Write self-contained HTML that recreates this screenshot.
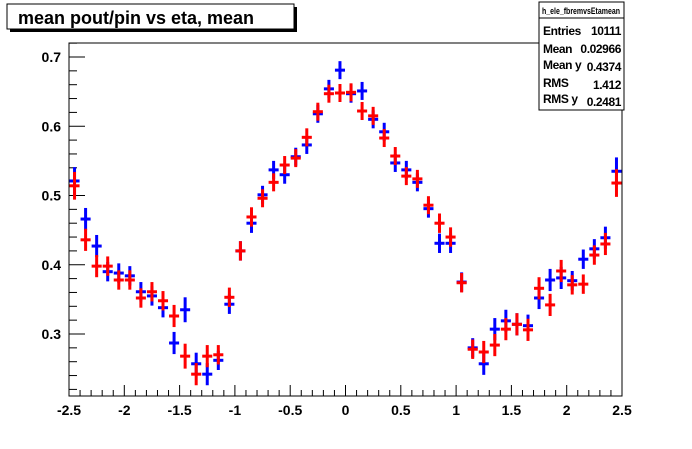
<!DOCTYPE html>
<html><head><meta charset="utf-8"><style>
body{margin:0;background:#fff;}
svg text{font-family:"Liberation Sans",sans-serif;}
.st{font-size:12px;font-weight:bold;letter-spacing:-0.4px;}
</style></head><body>
<svg id="c" width="692" height="444" xmlns="http://www.w3.org/2000/svg">
<rect x="0" y="0" width="692" height="444" fill="#fff"/>
<g>
<rect x="10" y="7" width="287" height="25" fill="#000"/>
<rect x="7" y="4" width="287" height="25" fill="#fff" stroke="#000" stroke-width="1"/>
<text x="18" y="24" font-size="18" font-weight="bold">mean pout/pin vs eta, mean</text>
</g>
<g id="plot"></g>
<g>
<rect x="539" y="2" width="85" height="108" fill="#fff" stroke="#000"/>
<line x1="539" y1="18" x2="624" y2="18" stroke="#000"/>
<text x="581" y="14" font-size="9" font-weight="bold" text-anchor="middle" textLength="78" lengthAdjust="spacingAndGlyphs">h_ele_fbremvsEtamean</text>
<text class="st" x="543" y="35">Entries</text><text class="st" x="621" y="35" text-anchor="end">10111</text>
<text class="st" x="543" y="53">Mean</text><text class="st" x="621" y="53" text-anchor="end">0.02966</text>
<text class="st" x="543" y="69">Mean y</text><text class="st" x="621" y="71" text-anchor="end">0.4374</text>
<text class="st" x="543" y="87">RMS</text><text class="st" x="621" y="89" text-anchor="end">1.412</text>
<text class="st" x="543" y="103">RMS y</text><text class="st" x="621" y="106" text-anchor="end">0.2481</text>
</g>
</svg>
<script>
const xTicks=[-2.5,-2,-1.5,-1,-0.5,0,0.5,1,1.5,2,2.5];
const xTickLabels=["-2.5","-2","-1.5","-1","-0.5","0","0.5","1","1.5","2","2.5"];
const yTicks=[0.3,0.4,0.5,0.6,0.7];
const yTickLabels=["0.3","0.4","0.5","0.6","0.7"];
const binLow=-2.5, binWidth=0.1;
const blueValues=[0.521,0.466,0.427,0.390,0.388,0.384,0.361,0.355,0.338,0.287,0.335,0.257,0.242,0.262,0.343,0.420,0.460,0.501,0.537,0.530,0.556,0.573,0.618,0.654,0.681,0.647,0.651,0.610,0.592,0.547,0.537,0.519,0.481,0.431,0.431,0.375,0.280,0.257,0.307,0.319,0.314,0.312,0.352,0.378,0.381,0.377,0.408,0.423,0.439,0.535];
const redValues=[0.514,0.436,0.398,0.398,0.378,0.378,0.352,0.361,0.348,0.326,0.268,0.242,0.268,0.270,0.353,0.420,0.469,0.496,0.519,0.544,0.554,0.584,0.621,0.647,0.648,0.649,0.622,0.615,0.583,0.557,0.528,0.524,0.486,0.460,0.440,0.374,0.278,0.274,0.284,0.307,0.314,0.306,0.366,0.342,0.391,0.371,0.372,0.414,0.430,0.518];
const blueErrors=[0.02,0.016,0.016,0.014,0.014,0.014,0.014,0.014,0.014,0.016,0.018,0.016,0.016,0.014,0.014,0.014,0.014,0.013,0.013,0.013,0.013,0.013,0.013,0.013,0.013,0.013,0.013,0.013,0.013,0.013,0.013,0.013,0.013,0.014,0.014,0.014,0.014,0.016,0.016,0.016,0.016,0.016,0.016,0.016,0.016,0.014,0.014,0.014,0.016,0.02];
const redErrors=blueErrors.slice();
const X0=69,X1=622,Y0=43,Y1=396;
const sx=v=>X0+(v+2.5)/5*(X1-X0);
const sy=v=>57+(0.7-v)*692.5;
const NS="http://www.w3.org/2000/svg";
const g=document.getElementById('plot');
function mk(t,a,p){const e=document.createElementNS(NS,t);for(const k in a)e.setAttribute(k,a[k]);(p||g).appendChild(e);return e;}
const fr=mk('rect',{x:X0,y:Y0,width:X1-X0,height:Y1-Y0,fill:'none',stroke:'#000','stroke-width':1});


for(let v=-2.5;v<=2.501;v+=0.1){const x=sx(v);const maj=Math.abs(v*2-Math.round(v*2))<1e-6;mk('line',{x1:x,x2:x,y1:Y1,y2:Y1-(maj?11:6),stroke:'#000'});}
xTicks.forEach((v,i)=>{const t=mk('text',{x:sx(v),y:Y1+19,'font-size':14,'font-weight':'bold','text-anchor':'middle'});t.textContent=xTickLabels[i];

});
for(let v=0.22;v<=0.7201;v+=0.02){const y=sy(v);if(y<Y0||y>Y1)continue;const maj=Math.abs(v*10-Math.round(v*10))<1e-6;mk('line',{x1:X0,x2:X0+(maj?16:8),y1:y,y2:y,stroke:'#000'});}
yTicks.forEach((v,i)=>{const t=mk('text',{x:X0-8,y:sy(v)+5,'font-size':14,'font-weight':'bold','text-anchor':'end'});t.textContent=yTickLabels[i];

});
function series(vals,errs,col,name){
 const sg=mk('g',{});
 
 
 vals.forEach((v,i)=>{const xl=binLow+i*binWidth;const xc=sx(xl+binWidth/2),y=sy(v);
  const pt=mk('g',{},sg);
  
  
  mk('line',{x1:sx(xl)+0.5,x2:sx(xl+binWidth)-0.5,y1:y,y2:y,stroke:col,'stroke-width':3},pt);
  mk('line',{x1:xc,x2:xc,y1:sy(v+errs[i]),y2:sy(v-errs[i]),stroke:col,'stroke-width':3},pt);
 });
}
series(blueValues,blueErrors,'#0000ff','blue-series');
series(redValues,redErrors,'#ff0000','red-series');
</script>
</body></html>
